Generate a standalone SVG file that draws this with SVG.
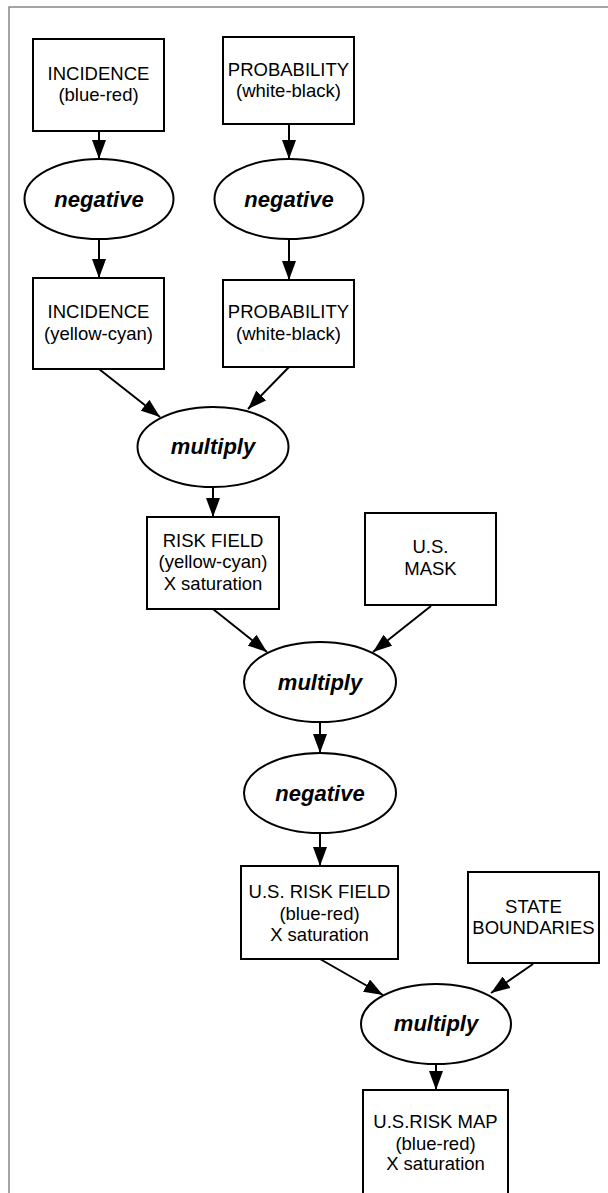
<svg xmlns="http://www.w3.org/2000/svg" width="608" height="1193" viewBox="0 0 608 1193">
<defs>
<style>
.box{fill:#fff;stroke:#000;stroke-width:2}
.ell{fill:#fff;stroke:#000;stroke-width:2}
.t{font-family:"Liberation Sans",Arial,sans-serif;font-size:18.5px;text-anchor:middle;fill:#000}
.op{font-family:"Liberation Sans",Arial,sans-serif;font-size:22px;font-weight:bold;font-style:italic;text-anchor:middle;fill:#000}
.c{stroke:#000;stroke-width:2;fill:none;marker-end:url(#ah)}
</style>
<marker id="ah" markerUnits="userSpaceOnUse" markerWidth="19" markerHeight="14" refX="19" refY="7" orient="auto">
<path d="M0,0 L19,7 L0,14 z" fill="#000"/>
</marker>
</defs>
<rect width="608" height="1193" fill="#fff"/>
<path d="M9,1193 L9,7 L608,7" fill="none" stroke="#888" stroke-width="1.5"/>

<g id="connectors">
<line class="c" x1="99" y1="131" x2="99" y2="159"/>
<line class="c" x1="289" y1="124" x2="289" y2="159"/>
<line class="c" x1="99" y1="239" x2="99" y2="278"/>
<line class="c" x1="289" y1="239" x2="289" y2="280"/>
<line class="c" x1="99" y1="369" x2="160" y2="417"/>
<line class="c" x1="289" y1="367" x2="248" y2="409"/>
<line class="c" x1="213" y1="487" x2="213" y2="517"/>
<line class="c" x1="213" y1="609" x2="267" y2="652"/>
<line class="c" x1="431" y1="606" x2="373" y2="652"/>
<line class="c" x1="320" y1="722" x2="320" y2="753"/>
<line class="c" x1="320" y1="833" x2="320" y2="866"/>
<line class="c" x1="320" y1="959" x2="383" y2="995"/>
<line class="c" x1="533" y1="964" x2="491" y2="993"/>
<line class="c" x1="436" y1="1064" x2="436" y2="1090"/>
</g>

<g id="incidence1">
<rect class="box" x="33" y="39" width="131" height="92"/>
<text class="t" x="98.5" y="80">INCIDENCE</text>
<text class="t" x="98.5" y="101">(blue-red)</text>
</g>
<g id="probability1">
<rect class="box" x="223" y="37" width="131" height="87"/>
<text class="t" x="288.5" y="76">PROBABILITY</text>
<text class="t" x="288.5" y="97">(white-black)</text>
</g>
<g id="negative1">
<ellipse class="ell" cx="99" cy="199" rx="74.5" ry="40"/>
<text class="op" x="99" y="207">negative</text>
</g>
<g id="negative2">
<ellipse class="ell" cx="289" cy="199" rx="74.5" ry="40"/>
<text class="op" x="289" y="207">negative</text>
</g>
<g id="incidence2">
<rect class="box" x="33" y="278" width="131" height="91"/>
<text class="t" x="98.5" y="318">INCIDENCE</text>
<text class="t" x="98.5" y="340">(yellow-cyan)</text>
</g>
<g id="probability2">
<rect class="box" x="223" y="280" width="131" height="87"/>
<text class="t" x="288.5" y="318">PROBABILITY</text>
<text class="t" x="288.5" y="340">(white-black)</text>
</g>
<g id="multiply1">
<ellipse class="ell" cx="213" cy="447" rx="75.5" ry="40"/>
<text class="op" x="213" y="454">multiply</text>
</g>
<g id="riskfield">
<rect class="box" x="147" y="517" width="132" height="92"/>
<text class="t" x="213" y="547">RISK FIELD</text>
<text class="t" x="213" y="568">(yellow-cyan)</text>
<text class="t" x="213" y="590">X saturation</text>
</g>
<g id="usmask">
<rect class="box" x="365" y="513" width="131" height="92"/>
<text class="t" x="430.5" y="553">U.S.</text>
<text class="t" x="430.5" y="575">MASK</text>
</g>
<g id="multiply2">
<ellipse class="ell" cx="320" cy="682" rx="76" ry="40"/>
<text class="op" x="320" y="690">multiply</text>
</g>
<g id="negative3">
<ellipse class="ell" cx="320" cy="793" rx="76" ry="40"/>
<text class="op" x="320" y="801">negative</text>
</g>
<g id="usriskfield">
<rect class="box" x="241" y="866" width="157" height="93"/>
<text class="t" x="319.5" y="898">U.S. RISK FIELD</text>
<text class="t" x="319.5" y="920">(blue-red)</text>
<text class="t" x="319.5" y="941">X saturation</text>
</g>
<g id="stateboundaries">
<rect class="box" x="468" y="872" width="131" height="91"/>
<text class="t" x="533.5" y="913">STATE</text>
<text class="t" x="533.5" y="934">BOUNDARIES</text>
</g>
<g id="multiply3">
<ellipse class="ell" cx="436" cy="1024" rx="75" ry="40"/>
<text class="op" x="436" y="1031">multiply</text>
</g>
<g id="usriskmap">
<rect class="box" x="363" y="1090" width="145" height="120"/>
<text class="t" x="435.5" y="1128">U.S.RISK MAP</text>
<text class="t" x="435.5" y="1150">(blue-red)</text>
<text class="t" x="435.5" y="1170">X saturation</text>
</g>
</svg>
